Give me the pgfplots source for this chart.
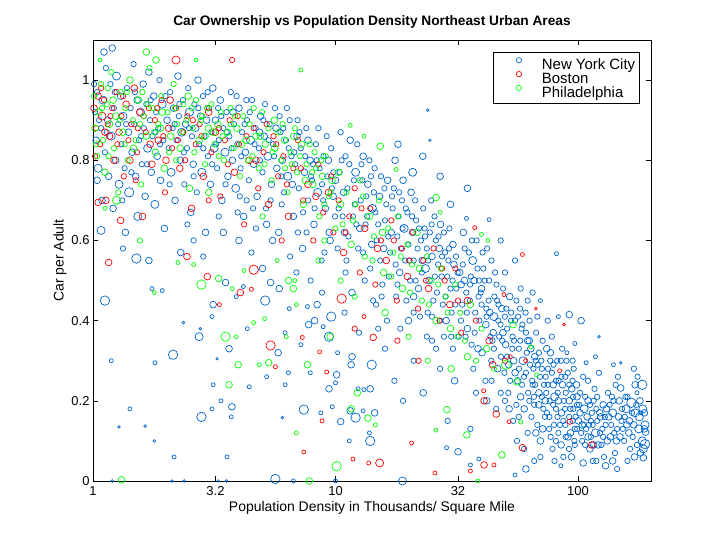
\documentclass[border=0pt]{standalone}
\usepackage{pgfplots}
\pgfplotsset{compat=1.18}
\usepackage{pgfplotstable}
\usepackage{fontspec}
\setmainfont{Liberation Sans}
\definecolor{nycblue}{RGB}{0,102,204}
\definecolor{bosred}{RGB}{255,0,0}
\definecolor{phigreen}{RGB}{0,255,0}

\pgfplotstableread{
x y s
1.02 0.92 2
1.03 0.85 2.5
1.04 0.97 2
1.05 0.78 3
1.11 1.07 2.5
1.2 1.08 2.5
1.08 0.88 2
1.09 0.70 2.5
1.10 0.95 3
1.12 0.82 2
1.13 1.03 2
1.15 0.90 2.5
1.16 0.76 2.5
1.18 0.99 2
1.19 0.86 3
1.21 0.68 2.5
1.22 0.93 2
1.24 0.80 2.5
1.25 1.01 3
1.27 0.89 2
1.28 0.74 3
1.30 0.96 2.5
1.31 0.84 2
1.33 0.91 3
1.35 0.78 2
1.36 0.62 2.5
1.38 0.98 2
1.40 0.87 2.5
1.41 0.72 3.5
1.43 0.93 2
1.45 0.82 2.5
1.47 1.04 2
1.48 0.89 2
1.50 0.76 2.5
1.52 0.95 2.5
1.53 0.66 3
1.55 0.85 2
1.57 0.92 3
1.59 0.79 2
1.61 0.99 2.5
1.62 0.88 2
1.64 0.71 2.5
1.66 0.94 2
1.68 0.83 3
1.70 1.02 2.5
1.72 0.90 2
1.74 0.77 2.5
1.76 0.86 2
1.78 0.96 2.5
1.80 0.69 3
1.82 0.92 2
1.84 0.81 2.5
1.86 0.88 2
1.88 1.00 2
1.90 0.75 2.5
1.93 0.94 3
1.95 0.85 2
1.97 0.63 2.5
1.12 0.45 3.5
1.19 0.30 1.5
1.42 0.18 1.5
1.28 0.135 1
1.64 0.137 1
1.79 0.10 1
1.51 0.555 3.5
1.75 0.48 1.5
1.93 0.475 1.5
1.8 0.295 1.5
1.2 0 1
1.08 0.625 3
1.04 0.75 2.5
2.02 0.90 2.5
2.05 0.83 2
2.08 0.97 2
2.10 0.77 3
2.13 0.88 2
2.15 0.93 2.5
2.18 0.70 2.5
2.21 0.85 2
2.24 1.01 2.5
2.26 0.91 2
2.29 0.80 2.5
2.32 0.87 3
2.35 0.95 2
2.38 0.74 2
2.41 0.89 2.5
2.44 0.83 2
2.47 0.98 2
2.50 0.92 3
2.53 0.67 2.5
2.56 0.86 2
2.59 0.79 2.5
2.62 0.94 2
2.65 0.88 2.5
2.68 0.72 2
2.71 1.00 2.5
2.74 0.84 2
2.78 0.91 2.5
2.81 0.77 3
2.84 0.96 2
2.88 0.86 2
2.91 0.62 2.5
2.94 0.90 2.5
2.98 0.81 2
3.01 0.93 2
3.05 0.74 2.5
3.08 0.87 2
3.12 0.98 2.5
3.16 0.83 3
2.16 0.06 1.5
2.14 0.315 3.5
2.36 0.395 1
2.77 0.38 1
2.74 0.36 3
2.8 0.16 3.5
2.12 0 1
2.38 0 1
2.3 0.57 2.5
2.6 0.60 2
3.2 0.90 2.5
3.25 0.78 2
3.3 0.85 2
3.35 0.95 2.5
3.4 0.70 2.5
3.45 0.88 2
3.5 0.82 3
3.55 0.92 2
3.6 0.76 2.5
3.65 0.86 2
3.7 0.97 2
3.76 0.80 2.5
3.82 0.89 2
3.88 0.73 3
3.94 0.84 2
4.0 0.93 2.5
4.06 0.78 2
4.12 0.87 2
4.18 0.66 2.5
4.25 0.82 2.5
4.32 0.90 2
4.39 0.75 2
4.46 0.85 3
4.53 0.95 2
4.6 0.79 2.5
4.68 0.88 2
4.75 0.71 2.5
4.83 0.83 2
4.91 0.91 2.5
5.0 0.77 2
5.08 0.86 2.5
5.17 0.68 2
5.26 0.81 3
5.35 0.89 2
5.44 0.74 2.5
5.53 0.84 2
5.63 0.93 2
5.73 0.78 2.5
5.83 0.62 2.5
5.93 0.87 2
6.03 0.80 2.5
6.14 0.72 2
6.25 0.85 2
6.36 0.76 3
6.47 0.90 2
6.58 0.81 2
6.7 0.66 2.5
6.82 0.79 2
6.94 0.86 2.5
7.06 0.73 2
7.19 0.83 2
7.32 0.58 2.5
7.45 0.77 2.5
7.58 0.88 2
7.72 0.70 2
7.86 0.80 2.5
8.0 0.75 2
8.15 0.64 2.5
8.3 0.84 2
8.45 0.72 3
8.6 0.78 2
8.76 0.55 2
8.92 0.81 2
9.08 0.68 2.5
9.25 0.76 2
9.42 0.62 2.5
9.6 0.83 2
9.78 0.71 2.5
9.95 0.66 2
3.28 0.93 2
3.52 0.74 2
3.78 0.92 2.5
4.03 0.71 2
4.29 0.95 2
4.57 0.68 2
4.86 0.87 2.5
5.12 0.94 2
5.4 0.70 2
5.68 0.88 2.5
5.98 0.76 2
6.3 0.93 2
6.63 0.74 2.5
6.97 0.90 2
7.35 0.67 2
7.7 0.85 2.5
8.08 0.79 2
8.5 0.88 2
8.9 0.70 2
9.35 0.80 2.5
9.8 0.77 2
3.1 0.41 1.5
3.13 0.44 2.5
3.13 0.24 1.5
3.1 0.18 1.5
3.37 0.20 1.5
3.25 0.305 1
3.64 0.33 2.5
3.74 0.185 2.5
3.72 0.16 1.5
3.57 0.06 1.5
3.52 0.495 2.5
3.9 0.46 1.5
4.17 0.485 1.5
4.33 0.38 1.5
4.41 0.235 1.5
5.13 0.45 3.5
5.4 0.495 2.5
5.8 0.32 2.5
5.2 0.26 1.5
6.04 0.158 1
6.2 0.24 1.5
6.4 0.27 1.5
6.2 0.37 1.5
6.45 0.43 1.5
5.86 0.48 2.5
7.2 0.34 1.5
7.87 0.27 1.5
7.4 0.178 3.5
7.66 0.435 1.5
7.75 0.39 2.5
8.2 0.40 2.5
8.4 0.44 2.5
8.7 0.17 1.5
8.9 0.385 1.5
9.4 0.23 2.5
9.6 0.41 3.5
9.4 0.36 3.5
9.7 0.185 1.5
5.65 0.005 3.5
6.7 0 1.5
3.28 0 1
3.55 0 1
4.5 0.57 2
5.0 0.53 2.5
6.9 0.52 2
7.9 0.50 2
4.0 0.60 2.5
8.8 0.47 2
10.0 0.75 2.5
10.3 0.68 2
10.6 0.80 2
10.9 0.62 2.5
11.2 0.73 2
11.5 0.85 2.5
11.8 0.66 2
12.1 0.77 3
12.4 0.58 2
12.7 0.70 2
13.0 0.81 2.5
13.3 0.64 2
13.6 0.74 2.5
13.9 0.53 2
14.2 0.68 3
14.5 0.78 2
14.8 0.60 2
15.2 0.71 2.5
15.6 0.49 2
16.0 0.65 2
16.4 0.75 2.5
16.8 0.57 2
17.2 0.68 2
17.6 0.80 2.5
18.0 0.61 2
18.4 0.52 2.5
18.8 0.70 2
19.2 0.63 3
19.6 0.45 2
20.0 0.59 2
20.5 0.72 2.5
21.0 0.55 2
21.5 0.65 2
22.0 0.48 2.5
22.5 0.60 2
23.0 0.68 2
23.5 0.53 3
24.0 0.42 2
24.5 0.62 2
25.0 0.56 2.5
25.6 0.66 2
26.2 0.47 2
26.8 0.58 2.5
27.4 0.51 2
28.0 0.62 2
28.6 0.40 2.5
29.2 0.55 2
29.8 0.48 2
30.5 0.59 2.5
31.2 0.44 2
31.9 0.52 2
10.2 0.58 2
10.5 0.87 2
10.8 0.72 2.5
11.1 0.55 2
11.4 0.79 2
11.7 0.47 2.5
12.0 0.69 2
12.3 0.84 2
12.6 0.63 2.5
12.9 0.75 2
13.2 0.50 2
13.5 0.66 2
13.8 0.80 2
14.1 0.59 2.5
14.4 0.72 2
14.7 0.44 2
15.0 0.64 2
15.4 0.76 2
15.8 0.58 2.5
16.2 0.69 2
16.6 0.51 2
17.0 0.62 2.5
17.4 0.73 2
17.8 0.46 2
18.2 0.66 2
18.6 0.58 2
19.0 0.75 2.5
19.4 0.55 2
19.8 0.67 2
20.3 0.50 2
20.8 0.62 2.5
21.3 0.70 2
21.8 0.58 2
22.3 0.41 2
22.8 0.55 2.5
23.3 0.63 2
23.8 0.58 2
24.3 0.50 2.5
24.8 0.70 2
25.3 0.45 2
25.9 0.60 2
26.5 0.54 2
27.1 0.64 2.5
27.7 0.44 2
28.3 0.57 2
28.9 0.51 2
29.5 0.63 2
30.1 0.42 2
30.8 0.54 2.5
31.5 0.48 2
10.5 0.148 2.5
10.1 0.265 2.5
10.2 0.32 1.5
10.0 0.245 1.5
11.6 0.29 2.5
11.7 0.31 2.5
11.4 0.10 1.5
11.5 0.175 2.5
12.1 0.158 3.5
12.4 0.23 1.5
13.1 0.228 1.5
13.0 0.175 1.5
13.9 0.10 3.5
13.9 0.23 2.5
14.5 0.17 2.5
13.8 0.12 1.5
14.1 0.29 3.5
10 0 1.5
16 0.33 2
17.5 0.25 2
19 0.2 2
18.9 0 3
21 0.3 2
23 0.22 2.5
25 0.35 2
27 0.28 2
29 0.15 2
31 0.25 2.5
15 0.38 2
20 0.4 2.5
24 0.925 1
24.5 0.85 1
22.9 0.81 2.5
18.1 0.84 2.5
20.8 0.77 3
27 0.76 2.5
29.8 0.69 2.5
28.7 0.083 1.5
32 0.073 2.5
26 0.33 2
30 0.36 2
32.5 0.52 2.5
33.3 0.44 2
34.1 0.58 2
35.0 0.38 2.5
35.9 0.49 2
36.8 0.55 3
37.7 0.42 2
38.7 0.33 2.5
39.7 0.47 2
40.7 0.53 2
41.7 0.39 2.5
42.8 0.45 2
43.9 0.30 2
45.0 0.41 3
46.1 0.49 2
47.3 0.36 2
48.5 0.43 2.5
49.7 0.27 2
51.0 0.38 2
52.3 0.46 2.5
53.6 0.33 2
55.0 0.40 2
56.4 0.25 2.5
57.8 0.35 2
59.3 0.30 3
60.8 0.42 2
62.3 0.22 2
63.9 0.33 2.5
65.5 0.28 2
67.2 0.37 2
68.9 0.19 2.5
70.6 0.30 2
72.4 0.24 2
74.3 0.33 2.5
76.2 0.16 2
78.1 0.27 2
80.1 0.21 3
82.1 0.30 2
84.2 0.14 2
86.3 0.24 2.5
88.5 0.18 2
90.8 0.27 2
93.1 0.12 2.5
95.4 0.21 2
97.8 0.16 2
32.9 0.40 2
33.7 0.62 2.5
34.6 0.47 2
35.5 0.57 2
36.4 0.34 2
37.3 0.50 2.5
38.2 0.60 2
39.2 0.40 2
40.2 0.32 2.5
41.2 0.50 2
42.2 0.58 2
43.3 0.42 2.5
44.4 0.35 2
45.5 0.52 2
46.7 0.28 2.5
47.9 0.39 2
49.1 0.48 2
50.3 0.34 2.5
51.6 0.22 2
52.9 0.40 2
54.3 0.30 2.5
55.7 0.45 2
57.1 0.28 2
58.5 0.38 2
60.0 0.18 2.5
61.5 0.32 2
63.1 0.40 2
64.7 0.25 2
66.3 0.31 2.5
68.0 0.14 2
69.7 0.26 2
71.5 0.35 2
73.3 0.20 2.5
75.2 0.28 2
77.1 0.11 2
79.1 0.24 2.5
81.1 0.18 2
83.2 0.25 2
85.2 0.09 2.5
87.4 0.20 2
89.6 0.30 2
91.9 0.16 2
94.2 0.23 2.5
96.6 0.10 2
99.0 0.19 2
33.0 0.49 2.5
34.4 0.36 2
35.8 0.45 2
37.0 0.28 2
38.5 0.53 2
40.0 0.44 2
41.5 0.25 2
43.0 0.50 2
44.7 0.37 2.5
46.4 0.45 2
48.1 0.31 2
49.9 0.41 2
51.8 0.29 2.5
53.7 0.36 2
55.7 0.19 2
57.7 0.43 2
59.9 0.26 2
62.0 0.35 2.5
64.3 0.16 2
66.6 0.24 2
69.0 0.32 2
71.5 0.13 2.5
74.0 0.22 2
76.8 0.30 2
79.6 0.14 2
82.5 0.22 2
85.5 0.17 2.5
88.6 0.26 2
91.8 0.08 2
95.1 0.15 2
98.5 0.24 2.5
50.0 0.20 2
54.0 0.15 2
58.0 0.21 2.5
62.0 0.12 2
66.0 0.19 2
70.0 0.10 2.5
74.5 0.17 2
78.5 0.08 2
83.0 0.12 2
87.0 0.06 2
92.0 0.20 2.5
96.0 0.28 2
56 0.10 2
46 0.18 2
42 0.20 2.5
38 0.22 2
36 0.13 2
36 0.04 1.5
39 0.055 1.5
61 0.03 2.5
55 0.015 1.5
85 0.038 1.5
35 0.73 2.5
34.7 0.655 1.5
43 0.652 1.5
81.5 0.567 1.5
83 0.41 1.5
92 0.415 2.5
90 0.32 1.5
97 0.343 1.5
75 0.4 2
65 0.47 2
55 0.55 2
48 0.6 2
70 0.45 1.5
100.5 0.15 2.5
102 0.22 2
104 0.10 2
106 0.18 3
108 0.13 2
110 0.25 2
112 0.08 2.5
114 0.17 2
116 0.20 2
118 0.12 3
120 0.15 2
122 0.27 2
125 0.09 2
127 0.19 2.5
130 0.14 2
133 0.22 2
136 0.11 2.5
139 0.17 3
142 0.07 2
145 0.13 2
148 0.20 2.5
151 0.15 2
155 0.10 2
158 0.18 3
162 0.12 2.5
166 0.195 3.5
170 0.14 2.5
175 0.09 2
179 0.16 3
184 0.10 3
188 0.13 2.5
189 0.092 3.5
190 0.122 2.5
186 0.058 2.5
182 0.17 1.5
184 0.24 3.5
172 0.24 2.5
175 0.22 1.5
150 0.232 2.5
140 0.29 1.5
150 0.295 1
118 0.31 1.5
108 0.295 1.5
103 0.40 2.5
122 0.36 1
130 0.038 2.5
105 0.045 2.5
160 0.05 2
145 0.03 2
115 0.05 2
111 0.14 2
124 0.16 2.5
135 0.19 2
103 0.12 2
128 0.06 2
160 0.21 2
188 0.17 2.5
170 0.28 2
101 0.19 2
105 0.26 2
109 0.16 2.5
113 0.11 2
117 0.23 2
121 0.09 2.5
126 0.13 2
131 0.18 2.5
137 0.14 2
143 0.24 2
149 0.11 2.5
156 0.16 2
164 0.08 2
174 0.19 2
186 0.08 3
1.01 0.99 2
1.06 0.90 2
1.14 0.87 2
1.23 0.97 2
1.32 0.70 2
1.37 0.89 2
1.44 0.77 2
1.49 0.97 2
1.58 0.86 2
1.67 0.79 2
1.73 0.95 2
1.81 0.87 2
1.89 0.84 2
1.99 0.96 2
2.07 0.74 2
2.17 0.89 2
2.27 0.94 2
2.37 0.82 2
2.49 0.88 2
2.6 0.76 2
2.72 0.93 2
2.85 0.83 2
2.97 0.97 2
3.1 0.79 2
3.22 0.84 2
3.38 0.91 2
3.56 0.87 2
3.73 0.83 2
3.91 0.96 2
4.09 0.81 2
4.22 0.89 2
4.43 0.92 2
4.64 0.84 2
4.88 0.80 2
5.04 0.90 2
5.3 0.85 2
5.58 0.81 2
5.88 0.91 2
6.09 0.88 2
6.41 0.83 2
6.76 0.82 2
7.1 0.87 2
7.5 0.81 2
7.93 0.76 2
8.36 0.80 2
8.8 0.74 2
9.2 0.86 2
9.66 0.73 2
1.33 0.58 2
1.7 0.55 2.5
2.45 0.64 2
2.85 0.56 2
3.45 0.62 2.5
3.95 0.67 2
4.7 0.63 2
5.5 0.60 2.5
6.5 0.56 2
7.6 0.62 2
9.0 0.57 2
10.4 0.77 2
10.7 0.66 2
11.0 0.81 2
11.3 0.61 2
11.9 0.75 2
12.2 0.64 2
12.8 0.79 2
13.4 0.71 2
14.0 0.76 2
14.6 0.67 2
15.3 0.55 2
15.9 0.73 2
16.5 0.61 2
17.1 0.71 2
17.7 0.54 2
18.3 0.72 2
18.9 0.63 2
19.5 0.68 2
20.1 0.55 2
20.7 0.66 2
21.4 0.50 2
22.1 0.63 2
22.7 0.52 2
23.4 0.61 2
24.1 0.55 2
24.9 0.64 2
25.7 0.51 2
26.6 0.61 2
27.5 0.56 2
28.4 0.46 2
29.4 0.58 2
30.4 0.50 2
31.4 0.56 2
10.9 0.42 2
12.5 0.37 2
14.3 0.45 2
16.3 0.40 2
18.5 0.38 2
21.0 0.42 2
23.8 0.36 2
27.0 0.40 2
30.5 0.33 2
33.5 0.54 2
34.8 0.42 2
36.1 0.51 2
37.5 0.37 2
38.9 0.46 2
40.4 0.57 2
41.9 0.43 2
43.5 0.36 2
45.2 0.46 2
46.9 0.40 2
48.7 0.35 2
50.6 0.43 2
52.5 0.25 2
54.5 0.35 2
56.6 0.41 2
58.8 0.24 2
61.0 0.37 2
63.4 0.29 2
65.8 0.21 2
68.3 0.29 2
70.9 0.21 2
73.6 0.26 2
76.4 0.20 2
79.3 0.29 2
82.3 0.16 2
85.4 0.26 2
88.7 0.14 2
92.1 0.24 2
95.6 0.18 2
99.2 0.13 2
44 0.25 2
48 0.22 2
52 0.18 2.5
57 0.16 2
63 0.20 2
67 0.12 2.5
72 0.18 2
76 0.13 2
81 0.10 2
89 0.11 2
94 0.06 2.5
97 0.13 2
60 0.08 2
66 0.05 2
80 0.05 2
70 0.06 2
50 0.52 2
58 0.48 2
62 0.45 2
68 0.41 2
78 0.36 2
86 0.33 2
95 0.30 2
102 0.17 2.5
106 0.14 2
107 0.21 2
110 0.11 2.5
112 0.19 2
115 0.14 2
119 0.18 2
123 0.12 2
129 0.16 2
132 0.10 2.5
138 0.21 2
141 0.12 2
147 0.16 2.5
153 0.13 2
157 0.21 2
163 0.15 2.5
168 0.11 2
172 0.17 3
178 0.13 3
181 0.07 2.5
185 0.18 3
189 0.14 3
176 0.26 2
146 0.26 2
119 0.05 2
139 0.05 2.5
40 0.48 2.5
42 0.41 2
45 0.33 2
47 0.44 2
49 0.37 2.5
51 0.31 2
53 0.42 2
55 0.27 2.5
57 0.33 2
59 0.39 2
61 0.27 2
63 0.35 2.5
65 0.24 2
67 0.30 2
69 0.22 2.5
71 0.28 2
73 0.16 2
75 0.24 2
77 0.32 2.5
79 0.19 2
81 0.25 2
83 0.20 2.5
85 0.30 2
87 0.15 2
89 0.22 2
91 0.11 2.5
93 0.18 2
95 0.25 2
97 0.09 2
99 0.21 2.5
104 0.14 2.5
107 0.09 2
110 0.20 2.5
113 0.15 2
116 0.09 2.5
120 0.21 2
123 0.17 2.5
127 0.11 2
134 0.16 2.5
140 0.20 2
144 0.10 2.5
152 0.18 2
159 0.14 2.5
167 0.17 2
171 0.06 2.5
180 0.20 2.5
36.5 0.60 2
39 0.50 2
44 0.55 2
34 0.50 2.5
32.2 0.36 2
3.3 0.66 2
4.3 0.70 2
5.2 0.64 2.5
6.0 0.69 2
7.0 0.62 2
8.2 0.68 2
9.5 0.60 2.5
11.0 0.52 2
13.0 0.57 2
15.5 0.46 2
18.0 0.49 2
21.0 0.46 2.5
25 0.41 2
28 0.36 2
}\nycdata

\pgfplotstableread{
x y s
1.01 0.93 2.5
1.03 0.88 2
1.05 0.96 2.5
1.07 0.84 2
1.09 0.91 3
1.11 0.95 2
1.13 0.70 2.5
1.15 0.89 2
1.17 0.86 2.5
1.2 0.93 2
1.22 0.80 2.5
1.25 0.97 2
1.28 0.87 2.5
1.31 0.91 2
1.34 0.76 2
1.37 0.94 2.5
1.4 0.85 2
1.44 0.89 2
1.48 0.98 2.5
1.52 0.82 2
1.56 0.92 2.5
1.6 0.66 2.5
1.65 0.87 2
1.7 0.93 2
1.75 0.79 2.5
1.8 0.90 2
1.86 0.85 2.5
1.92 0.95 2
1.98 0.72 2
2.05 0.88 2.5
2.12 0.83 2
2.2 0.93 2
2.28 0.78 2.5
2.36 0.87 2
2.45 0.91 2
2.55 0.68 2.5
2.65 0.84 2
2.75 0.89 2
2.85 0.76 2.5
2.96 0.93 2
3.08 0.82 2
3.2 0.87 2.5
3.35 0.71 2
3.5 0.85 2
3.66 0.90 2
3.83 0.77 2.5
4.0 0.84 2
4.2 0.64 2
4.4 0.80 2.5
4.6 0.88 2
4.8 0.73 2
5.05 0.82 2
5.3 0.69 2.5
5.55 0.86 2
5.8 0.76 2
6.1 0.81 2
6.4 0.66 2.5
6.7 0.78 2
7.0 0.85 2
7.35 0.70 2
7.7 0.74 2.5
8.1 0.60 2
8.5 0.79 2
8.9 0.67 2
9.35 0.72 2.5
9.8 0.62 2
10.3 0.70 2
10.8 0.57 2.5
11.4 0.66 2
12.0 0.73 2
12.6 0.52 2
13.2 0.63 2.5
13.9 0.68 2
14.6 0.49 2
15.4 0.60 2
16.2 0.55 2.5
17.0 0.65 2
17.9 0.45 2
18.8 0.58 2
19.8 0.51 2.5
20.8 0.62 2
21.9 0.43 2
23.0 0.55 2
24.2 0.48 2.5
25.4 0.58 2
26.8 0.40 2
28.2 0.50 2
29.6 0.44 2.5
31.2 0.53 2
33.0 0.37 2
35.0 0.45 2.5
37.5 0.632 1.5
1.16 0.545 2.5
2.44 0.56 2.5
2.96 0.51 2.5
3.32 0.44 1.5
4.05 0.47 2.5
4.5 0.478 1.5
4.6 0.527 3.5
5.4 0.338 3.5
5.65 0.285 1.5
7.3 0.358 1.5
7.4 0.072 1.5
8.8 0.15 1.5
9.2 0.272 1.5
8.6 0.322 1.5
10.6 0.455 3.5
13.1 0.41 1.5
13.7 0.045 1.5
11.8 0.055 1.5
14.3 0.358 2.5
15.2 0.045 3
20.6 0.095 1.5
25.7 0.02 1.5
36 0.025 1.5
41 0.04 2.5
45 0.04 1.5
59 0.083 2.5
46 0.167 2.5
52 0.148 1.5
41 0.20 2.5
40.8 0.225 1.5
44.5 0.29 2.5
52.6 0.31 1.5
60.9 0.30 1.5
84 0.275 1.5
87.6 0.39 1
67 0.43 1
49.5 0.465 1.5
92.5 0.148 2
114 0.09 2.5
59 0.565 1.5
1.05 0.695 2.5
1.3 0.65 2.5
2.2 1.05 3
3.75 1.05 2
1.5 0.75 2
2.0 0.80 2.5
3.0 0.70 2
6.0 0.60 2
12 0.38 2
18 0.35 2
22 0.30 2
1.02 0.81 2
1.08 0.98 2
1.12 0.87 2.5
1.18 0.91 2
1.26 0.84 2
1.33 0.96 2
1.42 0.80 2.5
1.53 0.88 2
1.62 0.91 2
1.72 0.84 2.5
1.84 0.93 2
1.95 0.86 2
2.08 0.95 2.5
2.24 0.85 2
2.4 0.80 2
2.58 0.90 2
2.8 0.86 2
3.0 0.92 2.5
3.3 0.88 2
3.6 0.79 2
3.95 0.91 2
4.3 0.86 2
4.7 0.80 2.5
5.2 0.89 2
5.7 0.84 2
6.3 0.74 2
7.2 0.78 2
8.3 0.71 2.5
9.6 0.76 2
11.0 0.62 2
12.8 0.68 2
14.9 0.58 2.5
17.4 0.60 2
20.2 0.55 2
23.6 0.50 2
27.5 0.53 2
32.0 0.45 2
38 0.40 2
43 0.35 2.5
50 0.30 2
}\bosdata

\pgfplotstableread{
x y s
1.01 0.96 2
1.02 0.88 2.5
1.04 0.81 2
1.06 0.92 2.5
1.08 0.99 2
1.1 0.85 2
1.12 0.77 2.5
1.14 0.94 2
1.17 0.89 2.5
1.19 1.02 2
1.22 0.83 2
1.24 0.91 2.5
1.27 0.72 2
1.3 0.97 2
1.33 0.87 2.5
1.36 0.93 2
1.39 0.80 2
1.42 1.00 2.5
1.46 0.90 2
1.5 0.85 2
1.54 0.95 2.5
1.58 0.74 2
1.62 0.91 2
1.66 0.86 2.5
1.71 1.03 2
1.76 0.93 2
1.81 0.82 2.5
1.86 0.89 2
1.91 0.96 2
1.97 0.78 2.5
2.03 0.92 2
2.09 0.86 2.5
2.15 0.99 2
2.22 0.89 2
2.29 0.83 2.5
2.36 0.94 2
2.43 0.90 2
2.5 0.73 2.5
2.58 0.88 2
2.66 0.95 2
2.74 0.85 2.5
2.82 0.91 2
2.9 0.79 2
2.99 0.88 2.5
3.08 0.94 2
3.17 0.84 2
3.27 0.89 2.5
3.37 0.92 2
3.47 0.80 2
3.58 0.87 2.5
3.69 0.93 2
3.8 0.83 2
3.92 0.88 2.5
4.04 0.76 2
4.16 0.91 2
4.29 0.85 2.5
4.42 0.89 2
4.55 0.81 2
4.69 0.86 2.5
4.83 0.78 2
4.98 0.92 2
5.13 0.84 2.5
5.29 0.88 2
5.45 0.75 2
5.62 0.83 2.5
5.79 0.87 2
5.97 0.80 2
6.15 0.85 2.5
6.34 0.72 2
6.53 0.82 2
6.73 0.86 2.5
6.94 0.77 2
7.15 0.81 2
7.37 0.69 2.5
7.6 0.79 2
7.83 0.84 2
8.07 0.74 2.5
8.32 0.78 2
8.58 0.66 2
8.84 0.76 2.5
9.11 0.81 2
9.39 0.71 2
9.68 0.75 2.5
9.98 0.63 2
1.15 0.98 2
1.35 0.84 2
1.6 0.97 2
1.9 0.88 2.5
2.2 0.80 2
2.55 0.93 2
2.9 0.86 2.5
3.3 0.81 2
3.7 0.89 2
4.1 0.84 2.5
4.6 0.93 2
5.1 0.79 2
5.6 0.90 2.5
6.2 0.78 2
6.8 0.88 2
7.5 0.75 2.5
8.2 0.82 2
9.0 0.69 2
10.3 0.77 2.5
10.7 0.64 2
11.1 0.72 2
11.6 0.59 2.5
12.1 0.69 2
12.6 0.75 2
13.2 0.56 2
13.8 0.66 2.5
14.4 0.61 2
15.1 0.70 2
15.8 0.52 2.5
16.5 0.63 2
17.3 0.57 2
18.1 0.66 2
18.9 0.48 2.5
19.8 0.59 2
20.7 0.54 2
21.7 0.62 2.5
22.7 0.45 2
23.8 0.56 2
24.9 0.50 2
26.0 0.40 2.5
27.2 0.53 2
28.5 0.46 2
29.8 0.38 2.5
31.2 0.49 2
32.7 0.42 2
34.2 0.35 2
36.0 0.44 2.5
38.0 0.30 2
40.0 0.38 2
42.0 0.33 2.5
1.31 0.003 2.5
10.1 0.037 3.5
6.9 0.12 1.5
3.64 0.24 2.5
3.52 0.36 3.5
3.9 0.36 1.5
3.97 0.29 2.5
2.8 0.49 3.5
1.79 0.47 1.5
2.24 0.545 1.5
2.6 0.54 1.5
3.3 0.505 2.5
3.75 0.48 1.5
4.2 0.525 1.5
4.6 0.395 1.5
5.1 0.405 1.5
4.85 0.29 1.5
5.3 0.295 2.5
5.75 0.55 1.5
6.4 0.50 2.5
6.8 0.5 1.5
6.7 0.48 2.5
6.9 0.44 1.5
6.27 0.36 1.5
7.66 0.29 2.5
9.5 0.36 2.5
11.6 0.18 2.5
12.3 0.22 2.5
13.6 0.157 2.5
14.6 0.14 1.5
7.8 0 2.5
38.6 0 1.5
58 0.147 1.5
67.5 0.265 1.5
56 0.247 2.5
50.5 0.29 3.5
54 0.39 2.5
64 0.335 1.5
48.5 0.065 2.5
34.8 0.115 2.5
25.9 0.127 1.5
28.8 0.178 2.5
42.5 0.60 1.5
40 0.615 1.5
26 0.707 2.5
27 0.67 1.5
11.5 0.887 1.5
13.1 0.86 1.5
15.3 0.835 2.5
17.8 0.777 1.5
1.66 1.07 2.5
1.07 1.05 1.5
1.82 1.05 2.5
2.66 1.05 1.5
7.2 1.025 1.5
1.12 0.68 1.5
1.56 0.60 2
1.25 0.70 3
8.5 0.55 2
10.5 0.50 2
16 0.42 2.5
20 0.36 2
24 0.30 2
30 0.28 2.5
1.03 0.84 2
1.09 0.93 2
1.16 0.81 2
1.21 0.95 2.5
1.29 0.90 2
1.38 0.97 2
1.47 0.83 2.5
1.56 0.89 2
1.68 0.94 2
1.79 0.87 2
1.93 0.92 2.5
2.06 0.82 2
2.18 0.93 2
2.33 0.87 2
2.47 0.96 2.5
2.62 0.82 2
2.79 0.90 2
2.96 0.93 2
3.14 0.87 2.5
3.42 0.86 2
3.85 0.91 2
4.35 0.80 2
4.9 0.86 2.5
5.5 0.82 2
6.05 0.89 2
6.6 0.79 2
7.25 0.84 2.5
8.0 0.77 2
8.75 0.80 2
9.55 0.72 2
10.5 0.69 2.5
11.8 0.65 2
13.0 0.71 2
14.2 0.55 2
15.6 0.62 2.5
17.0 0.51 2
18.6 0.56 2
20.3 0.47 2
22.2 0.53 2.5
24.3 0.44 2
26.5 0.49 2
29.0 0.42 2
31.8 0.36 2
35 0.31 2.5
45 0.28 2
12 0.46 2
9 0.6 2
5 0.66 2
3 0.72 2.5
}\phldata

\begin{document}
\begin{tikzpicture}
\begin{axis}[
  scale only axis,
  width=558bp, height=441bp,
  at={(0,0)}, anchor=south west,
  xmode=log,
  xmin=1, xmax=200,
  ymin=0, ymax=1.1,
  clip=false,
  axis line style={black, line width=0.6pt},
  tick align=inside,
  major tick length=5bp,
  tick style={black, line width=0.6pt},
  xtick={1,3.2,10,32,100},
  xticklabels={1,3.2,10,32,100},
  minor xtick={},
  ytick={0,0.2,0.4,0.6,0.8,1},
  yticklabels={0,0.2,0.4,0.6,0.8,1},
  /pgf/number format/assume math mode=true,
  ticklabel style={font=\fontsize{13}{15}\selectfont},
  xticklabel style={anchor=base, yshift=-14.5bp},
  title={\bfseries Car Ownership vs Population Density Northeast Urban Areas},
  title style={font=\fontsize{13.75}{15}\selectfont, at={(0.5,1)}, anchor=base, yshift=8.5bp},
  xlabel={Population Density in Thousands/ Square Mile},
  ylabel={Car per Adult},
  label style={font=\fontsize{14}{16}\selectfont},
  xlabel style={at={(axis description cs:0.5,0)}, anchor=base, yshift=-30bp},
  ylabel style={at={(axis description cs:0,0.5)}, anchor=center, yshift=33bp},
  legend style={at={(1,1)}, anchor=north east, xshift=-11.5bp, yshift=-12.3bp,
    font=\fontsize{15}{17}\selectfont, draw=black, line width=0.6pt,
    inner xsep=2bp, inner ysep=2.4bp, row sep=-4.3bp,
    nodes={inner xsep=2bp, inner ysep=0pt, text height=11bp, text depth=3.2bp}},
  legend cell align=left,
  legend image code/.code={\path[draw=none, fill=none] (0bp,-3.2bp) rectangle (45bp,11bp);
    \draw[#1, line width=0.7pt, mark size=2.7pt] plot coordinates {(24bp,5.7bp)};},
]
\addlegendimage{only marks, mark=o, color=nycblue}
\addlegendimage{only marks, mark=o, color=bosred}
\addlegendimage{only marks, mark=o, color=phigreen}
\legend{New York City, Boston, Philadelphia}
\addplot[scatter, only marks, mark=o, line width=0.7pt, forget plot,
  point meta=explicit,
  scatter/use mapped color={draw=nycblue, fill=nycblue},
  visualization depends on={\thisrow{s}\as\ms},
  scatter/@pre marker code/.append style={/tikz/mark size={1.35*\ms}}]
  table[x=x, y=y, meta=s] {\nycdata};
\addplot[scatter, only marks, mark=o, line width=0.7pt, forget plot,
  point meta=explicit,
  scatter/use mapped color={draw=bosred, fill=bosred},
  visualization depends on={\thisrow{s}\as\ms},
  scatter/@pre marker code/.append style={/tikz/mark size={1.35*\ms}}]
  table[x=x, y=y, meta=s] {\bosdata};
\addplot[scatter, only marks, mark=o, line width=0.7pt, forget plot,
  point meta=explicit,
  scatter/use mapped color={draw=phigreen, fill=phigreen},
  visualization depends on={\thisrow{s}\as\ms},
  scatter/@pre marker code/.append style={/tikz/mark size={1.35*\ms}}]
  table[x=x, y=y, meta=s] {\phldata};
\end{axis}
\path[use as bounding box] (-93bp,-59bp) rectangle (627bp,481bp);
\end{tikzpicture}
\end{document}
